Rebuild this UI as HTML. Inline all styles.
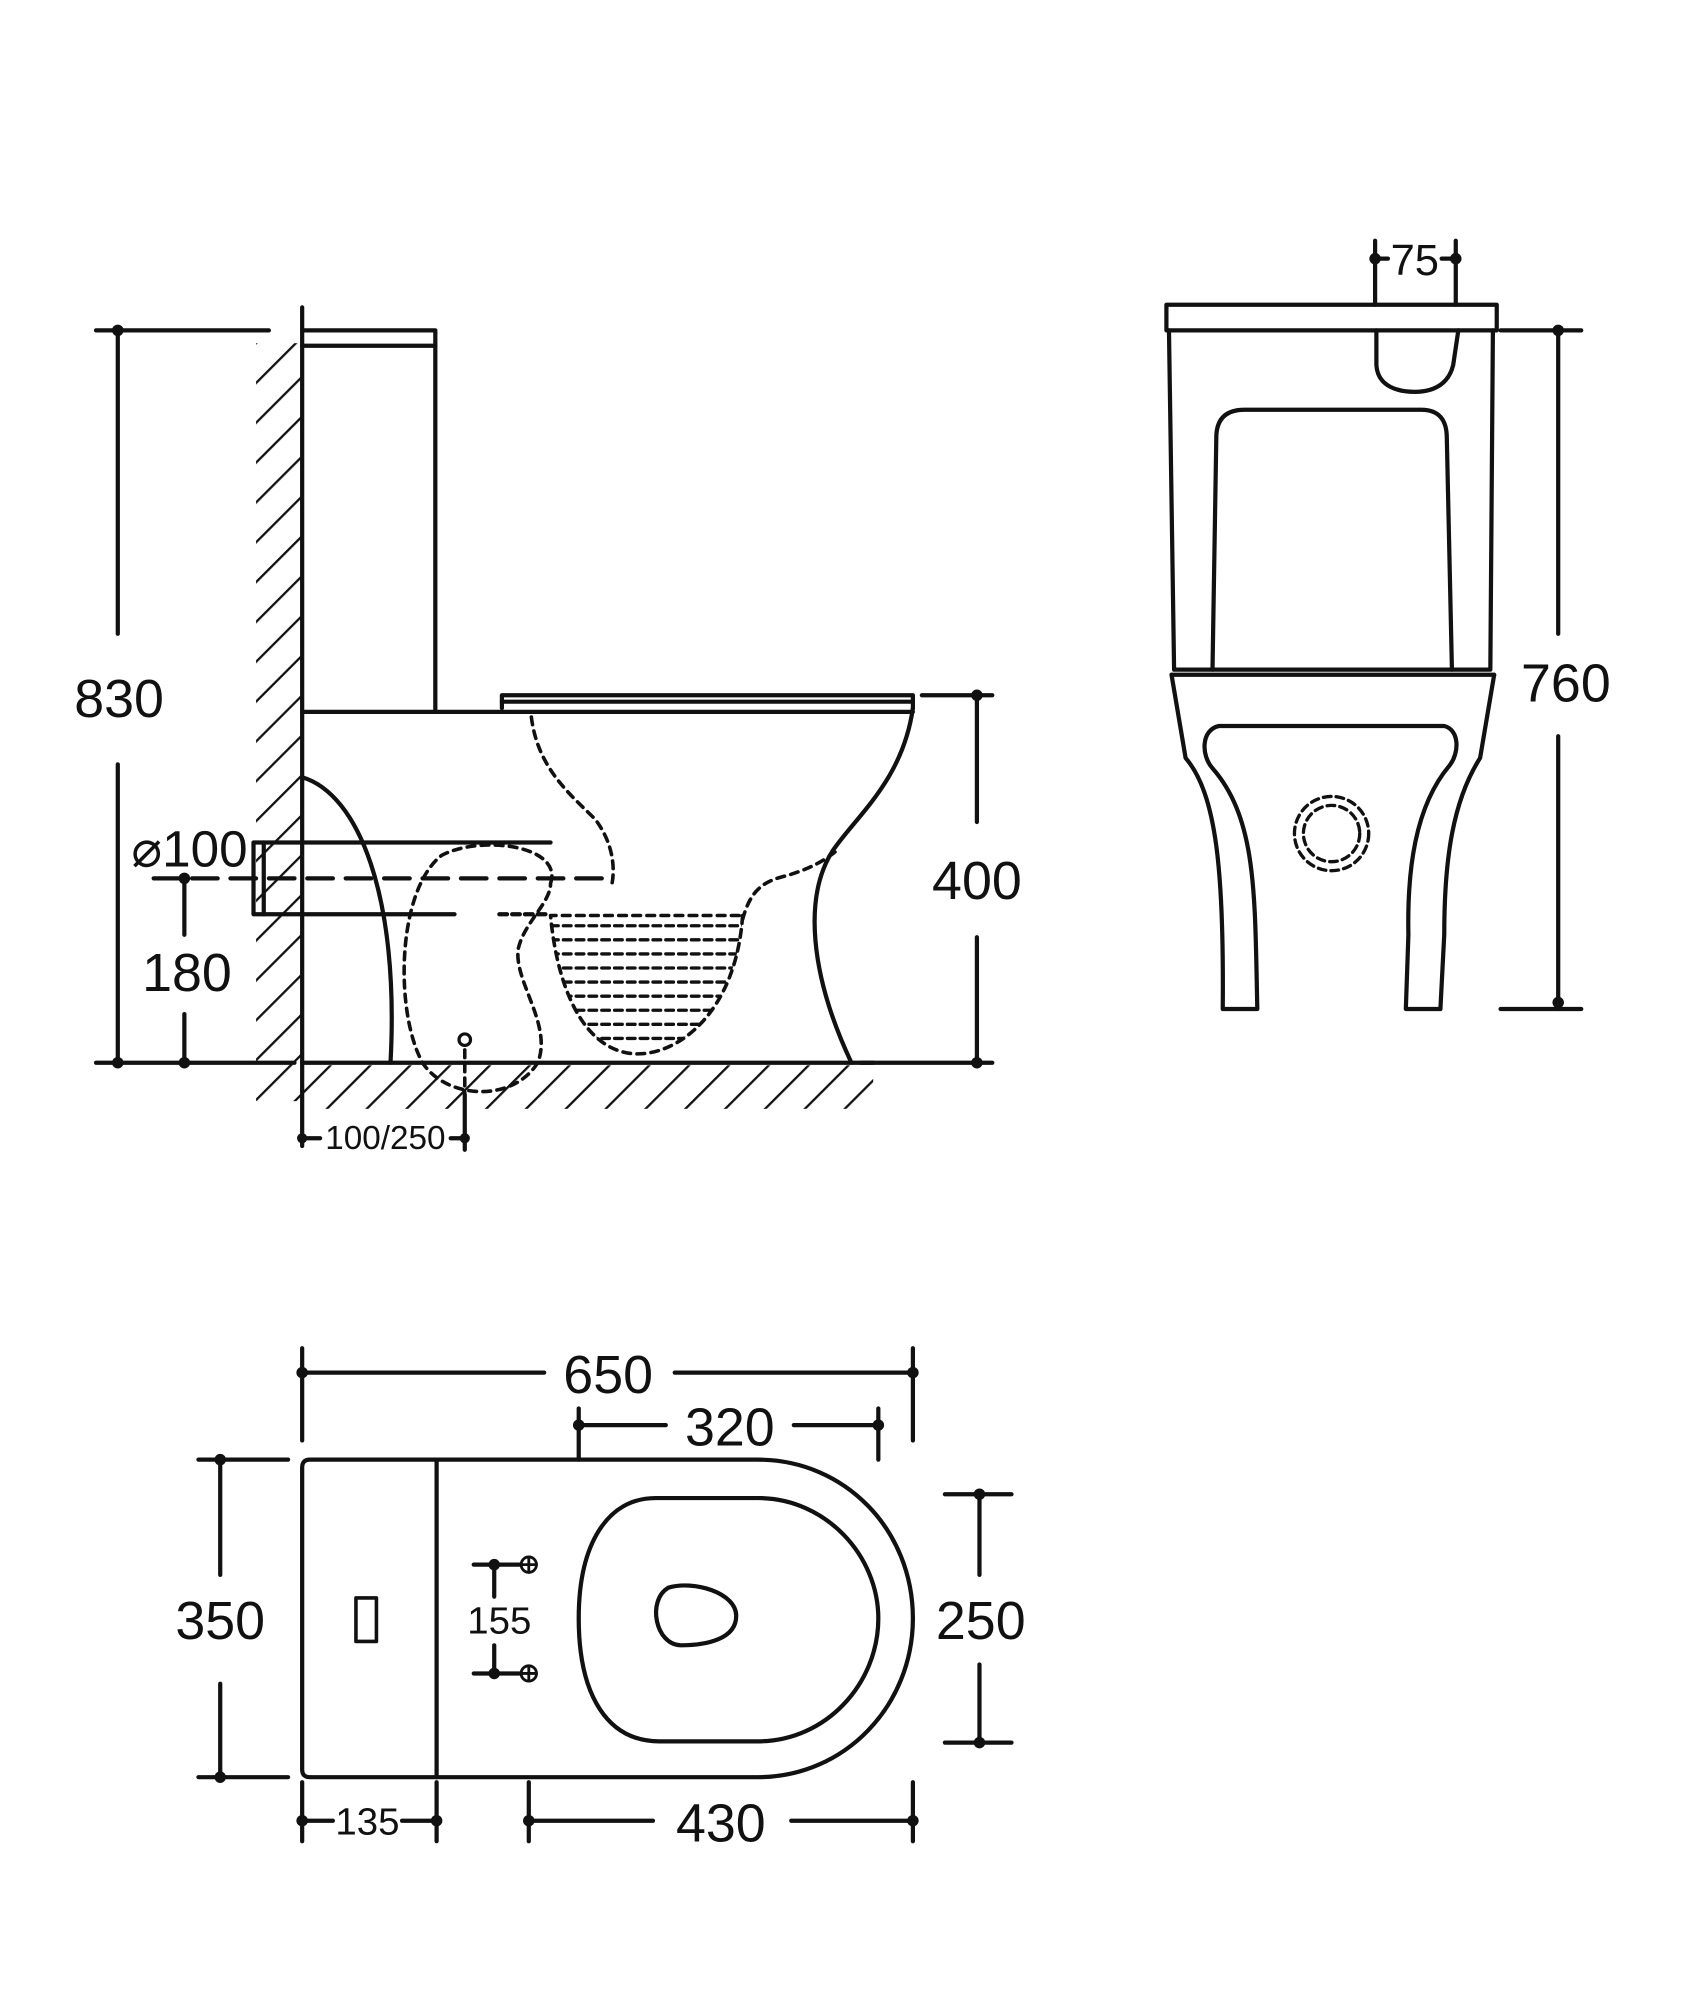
<!DOCTYPE html>
<html><head><meta charset="utf-8"><style>
html,body{margin:0;padding:0;background:#fff;}
svg{display:block;}
text{font-family:"Liberation Sans Narrow","Liberation Sans",sans-serif;fill:#111;text-anchor:middle;dominant-baseline:central;}
</style></head><body>
<svg width="1708" height="2000" viewBox="0 0 1334 1562" xmlns="http://www.w3.org/2000/svg">
<defs>
<pattern id="hw" width="22" height="22" patternUnits="userSpaceOnUse" patternTransform="rotate(45)">
<line x1="0" y1="0" x2="0" y2="22" stroke="#111" stroke-width="3.6"/>
</pattern>
<clipPath id="bowl"><path d="M580,715 C575,790 530,825 495,823 C455,820 435,770 430,715 Z"/></clipPath>
</defs>
<g fill="none" stroke="#111" stroke-width="3.3" stroke-linecap="round" stroke-linejoin="round">
<rect x="200" y="268" width="36" height="592" fill="url(#hw)" stroke="none"/>
<rect x="236" y="832" width="446" height="34" fill="url(#hw)" stroke="none"/>
<line x1="236" y1="240" x2="236" y2="895"/>
<line x1="236" y1="830" x2="682" y2="830"/>
<line x1="75" y1="258" x2="210" y2="258"/>
<line x1="75" y1="830" x2="230" y2="830"/>
<line x1="92" y1="258" x2="92" y2="495"/>
<line x1="92" y1="597" x2="92" y2="830"/>
<path d="M236,258 L340,258 L340,556"/>
<line x1="236" y1="270" x2="340" y2="270"/>
<line x1="236" y1="556" x2="713" y2="556"/>
<path d="M392,553 L392,543 L713,543 L713,553"/>
<line x1="392" y1="548" x2="713" y2="548"/>
<path d="M713,553 C705,610 668,638 650,665 C628,700 632,760 665,830"/>
<path d="M236,607 C280,620 312,700 305,830"/>
<path d="M430,658 L198,658 L198,714 L355,714"/>
<line x1="206" y1="658" x2="206" y2="714"/>
<line x1="120" y1="686" x2="470" y2="686" stroke-dasharray="20,10"/>
<line x1="390" y1="714" x2="430" y2="714" stroke-dasharray="6,4"/>
<g stroke-dasharray="6,5" stroke-width="2.8">
<path d="M415,560 C420,600 445,620 465,640 C480,660 480,680 478,690"/>
<path d="M430,690 C440,660 375,652 345,668 C310,695 308,790 330,830 C348,858 400,862 420,830 C432,800 400,765 405,740 C410,720 430,705 430,690"/>
<path d="M580,715 C575,790 530,825 495,823 C455,820 435,770 430,715 L580,715"/>
<path d="M580,718 C585,700 592,690 610,685 C630,680 645,672 655,663"/>
<line x1="363" y1="820" x2="363" y2="855"/>
</g>
<g clip-path="url(#bowl)" stroke-dasharray="6,4" stroke-width="2.6">
<line x1="420" y1="723" x2="590" y2="723"/><line x1="420" y1="734" x2="590" y2="734"/>
<line x1="420" y1="745" x2="590" y2="745"/><line x1="420" y1="756" x2="590" y2="756"/>
<line x1="420" y1="767" x2="590" y2="767"/><line x1="420" y1="778" x2="590" y2="778"/>
<line x1="420" y1="789" x2="590" y2="789"/><line x1="420" y1="800" x2="590" y2="800"/>
<line x1="420" y1="811" x2="590" y2="811"/>
</g>
<circle cx="363" cy="812" r="4.5" stroke-width="2.5"/>
<line x1="144" y1="686" x2="144" y2="730"/>
<line x1="144" y1="792" x2="144" y2="830"/>
<line x1="720" y1="543" x2="775" y2="543"/>
<line x1="672" y1="830" x2="775" y2="830"/>
<line x1="763" y1="543" x2="763" y2="642"/>
<line x1="763" y1="732" x2="763" y2="830"/>
<line x1="363" y1="855" x2="363" y2="898"/>
<line x1="236" y1="889" x2="250" y2="889"/>
<line x1="352" y1="889" x2="363" y2="889"/>

<rect x="911" y="238" width="258" height="20"/>
<path d="M913,258 L917,523 L1164,523 L1166,258"/>
<path d="M947,523 L950,340 Q951,320 972,320 L1110,320 Q1130,320 1130,342 L1134,523"/>
<path d="M1075,258 L1075,285 C1076,302 1092,306 1105,306 C1122,306 1132,298 1135,285 L1139,258"/>
<line x1="1074" y1="188" x2="1074" y2="238"/>
<line x1="1137" y1="188" x2="1137" y2="238"/>
<line x1="1074" y1="202" x2="1084" y2="202"/>
<line x1="1126" y1="202" x2="1137" y2="202"/>
<path d="M915,527 L1167,527"/>
<path d="M915,527 L926,592 C950,620 956,680 955,788 L982,788 C980,700 982,640 947,600 C938,590 938,570 952,567 L1128,567 C1140,570 1140,588 1132,598 C1105,630 1099,680 1100,730 L1098,788 L1125,788 L1128,730 C1128,670 1135,625 1156,592 L1167,527"/>
<circle cx="1040" cy="651" r="29" stroke-dasharray="6,4" stroke-width="2.6"/>
<circle cx="1040" cy="651" r="22" stroke-dasharray="6,4" stroke-width="2.6"/>
<line x1="1172" y1="258" x2="1235" y2="258"/>
<line x1="1172" y1="788" x2="1235" y2="788"/>
<line x1="1217" y1="258" x2="1217" y2="495"/>
<line x1="1217" y1="575" x2="1217" y2="788"/>

<line x1="236" y1="1053" x2="236" y2="1125"/>
<line x1="713" y1="1053" x2="713" y2="1125"/>
<line x1="236" y1="1072" x2="425" y2="1072"/>
<line x1="527" y1="1072" x2="713" y2="1072"/>
<line x1="452" y1="1100" x2="452" y2="1140"/>
<line x1="686" y1="1100" x2="686" y2="1140"/>
<line x1="452" y1="1113" x2="520" y2="1113"/>
<line x1="620" y1="1113" x2="686" y2="1113"/>
<path d="M242,1140 L592,1140 C660,1140 713,1195 713,1264 C713,1332 660,1388 592,1388 L242,1388 Q236,1388 236,1382 L236,1146 Q236,1140 242,1140 Z"/>
<line x1="341" y1="1140" x2="341" y2="1388"/>
<path d="M512,1170 L592,1170 C645,1170 686,1215 686,1264 C686,1315 645,1360 592,1360 L515,1360 C475,1360 452,1325 452,1264 C452,1205 475,1170 512,1170 Z"/>
<path d="M522,1240 C542,1234 575,1244 575,1262 C575,1280 552,1285 532,1285 C512,1285 505,1250 522,1240 Z"/>
<rect x="278" y="1248" width="16" height="34" stroke-width="2.8"/>
<line x1="370" y1="1222" x2="407" y2="1222"/>
<line x1="370" y1="1307" x2="407" y2="1307"/>
<line x1="386" y1="1222" x2="386" y2="1247"/>
<line x1="386" y1="1285" x2="386" y2="1307"/>
<circle cx="413" cy="1222" r="6" stroke-width="2.2"/><line x1="407" y1="1222" x2="419" y2="1222" stroke-width="2.2"/><line x1="413" y1="1216" x2="413" y2="1228" stroke-width="2.2"/>
<circle cx="413" cy="1307" r="6" stroke-width="2.2"/><line x1="407" y1="1307" x2="419" y2="1307" stroke-width="2.2"/><line x1="413" y1="1301" x2="413" y2="1313" stroke-width="2.2"/>
<line x1="155" y1="1140" x2="225" y2="1140"/>
<line x1="155" y1="1388" x2="225" y2="1388"/>
<line x1="172" y1="1140" x2="172" y2="1230"/>
<line x1="172" y1="1315" x2="172" y2="1388"/>
<line x1="738" y1="1167" x2="790" y2="1167"/>
<line x1="738" y1="1361" x2="790" y2="1361"/>
<line x1="765" y1="1167" x2="765" y2="1230"/>
<line x1="765" y1="1300" x2="765" y2="1361"/>
<line x1="236" y1="1392" x2="236" y2="1438"/>
<line x1="341" y1="1392" x2="341" y2="1438"/>
<line x1="236" y1="1422" x2="260" y2="1422"/>
<line x1="314" y1="1422" x2="341" y2="1422"/>
<line x1="413" y1="1392" x2="413" y2="1438"/>
<line x1="713" y1="1392" x2="713" y2="1438"/>
<line x1="413" y1="1422" x2="510" y2="1422"/>
<line x1="618" y1="1422" x2="713" y2="1422"/>
</g>
<g fill="#111">
<circle cx="92" cy="258" r="4.5"/><circle cx="92" cy="830" r="4.5"/>
<circle cx="144" cy="686" r="4.5"/><circle cx="144" cy="830" r="4.5"/>
<circle cx="763" cy="543" r="4.5"/><circle cx="763" cy="830" r="4.5"/>
<circle cx="236" cy="889" r="4"/><circle cx="363" cy="889" r="4"/>
<circle cx="1074" cy="202" r="4.5"/><circle cx="1137" cy="202" r="4.5"/>
<circle cx="1217" cy="258" r="4.5"/><circle cx="1217" cy="783" r="4.5"/>
<circle cx="236" cy="1072" r="4.5"/><circle cx="713" cy="1072" r="4.5"/>
<circle cx="452" cy="1113" r="4.5"/><circle cx="686" cy="1113" r="4.5"/>
<circle cx="386" cy="1222" r="4.5"/><circle cx="386" cy="1307" r="4.5"/>
<circle cx="172" cy="1140" r="4.5"/><circle cx="172" cy="1388" r="4.5"/>
<circle cx="765" cy="1167" r="4.5"/><circle cx="765" cy="1361" r="4.5"/>
<circle cx="236" cy="1422" r="4.5"/><circle cx="341" cy="1422" r="4.5"/>
<circle cx="413" cy="1422" r="4.5"/><circle cx="713" cy="1422" r="4.5"/>
</g>
<text x="93" y="546" font-size="42">830</text>
<text x="148" y="663" font-size="40">⌀100</text>
<text x="146" y="760" font-size="42">180</text>
<text x="763" y="688" font-size="42">400</text>
<text x="301" y="889" font-size="26">100/250</text>
<text x="1105" y="204" font-size="34">75</text>
<text x="1223" y="534" font-size="42">760</text>
<text x="475" y="1074" font-size="42">650</text>
<text x="570" y="1115" font-size="42">320</text>
<text x="172" y="1266" font-size="42">350</text>
<text x="390" y="1266" font-size="30">155</text>
<text x="766" y="1266" font-size="42">250</text>
<text x="287" y="1423" font-size="30">135</text>
<text x="563" y="1424" font-size="42">430</text>
</svg>
</body></html>
